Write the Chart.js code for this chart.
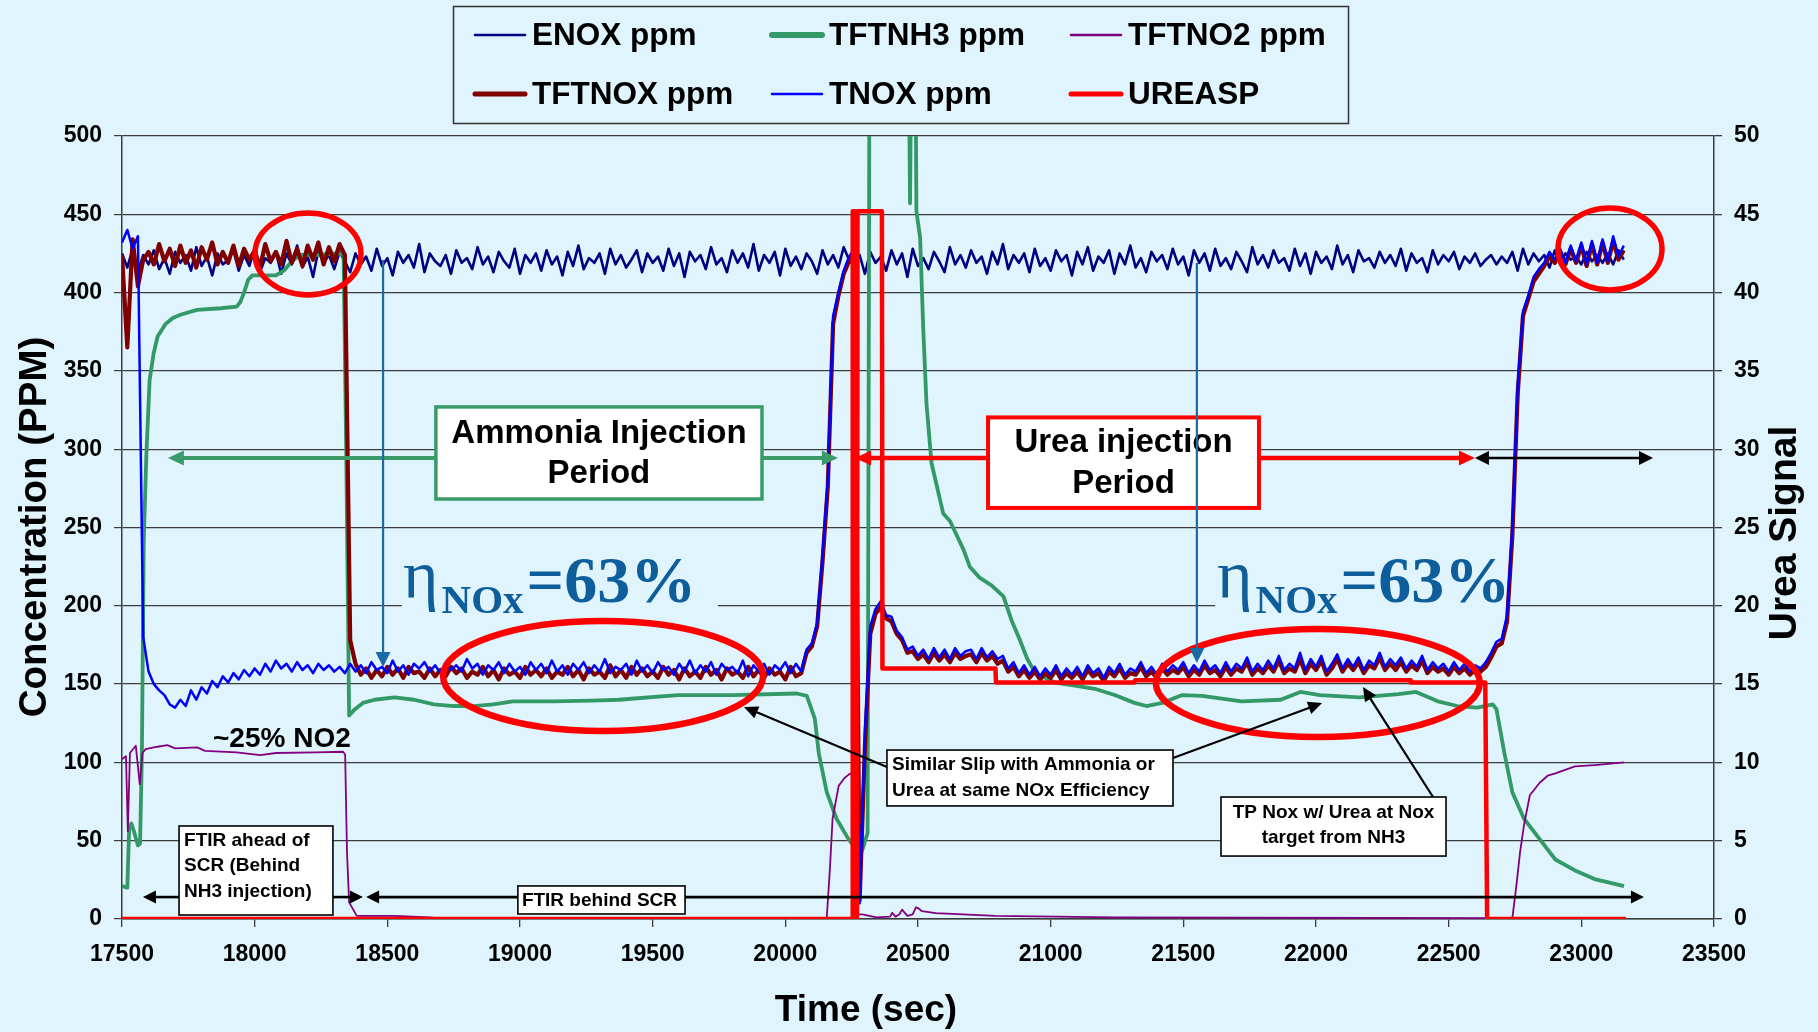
<!DOCTYPE html>
<html lang="en">
<head>
<meta charset="utf-8">
<title>SCR - Ammonia vs Urea injection</title>
<script src="https://cdn.jsdelivr.net/npm/chart.js@4.4.1/dist/chart.umd.min.js"></script>
<style>
  html, body { margin: 0; padding: 0; background: #E0F4FD; }
  #wrap { width: 1818px; height: 1032px; }
</style>
</head>
<body>
<div id="wrap"><canvas id="chart" width="1818" height="1032"></canvas></div>
<script>
// noisy NOx traces, every 20 s starting at 17500 s
const timeStart = 17500, timeStep = 20;

const enox = [
  425,416,428,413,424,418,427,415,422,412,426,419,424,414,429,417,423,411,425,418,
  421,427,414,424,417,428,413,422,419,426,412,425,418,430,416,423,410,427,419,424,
  415,426,420,413,425,418,423,414,428,417,422,411,426,419,424,416,431,413,425,420,
  417,424,412,427,419,422,415,429,418,423,413,426,420,416,428,412,424,419,425,414,
  427,418,423,411,426,417,430,415,422,419,425,412,428,418,424,416,421,427,413,425,
  419,423,414,428,417,425,410,426,420,424,415,429,418,422,413,427,419,425,416,431,
  414,424,419,426,411,428,417,423,415,425,420,412,427,418,424,416,429,421,417,424,
  412,426,419,423,414,427,418,425,410,428,417,422,415,426,420,413,429,418,424,416,
  427,419,423,412,426,418,431,415,424,419,425,413,428,417,422,414,427,420,424,411,
  426,418,429,414,423,419,427,412,425,418,430,416,422,413,426,420,424,415,428,418,
  423,411,427,419,425,414,428,417,422,415,426,420,413,429,418,424,416,427,419,422,
  414,428,417,425,412,426,419,423,415,430,418,424,413,427,420,422,416,426,419,424,
  417,428,414,425,419,422,413,427,418,424,420,426,415,423,419,425,417,421,424,418,
  423,419,426,414,428,418,425,420,424,416,427,419,425,421,423,418,426,420,424,419,
  425,418,427,421
];

const tnox = [
  432,440,428,436,180,158,150,146,143,137,135,140,136,146,140,148,144,152,148,155,
  151,157,153,159,155,160,156,163,158,165,160,163,158,164,159,162,157,163,159,162,
  158,161,157,163,158,162,157,164,159,161,157,165,158,162,156,163,160,164,158,162,
  157,164,159,162,158,166,160,163,156,162,159,164,157,163,158,161,156,164,159,163,
  157,165,158,162,156,163,159,164,157,162,158,166,157,161,159,163,156,165,158,162,
  157,164,159,161,156,163,158,165,157,162,158,164,156,163,159,161,157,165,155,162,
  158,163,156,162,159,164,157,163,158,172,176,189,232,280,385,400,414,423,428,10,
  120,187,198,203,194,193,184,180,172,174,168,172,166,173,167,172,166,173,168,171,
  172,166,173,167,171,166,168,160,164,157,162,156,161,155,160,156,162,155,160,156,
  161,155,162,157,160,154,161,157,163,156,160,158,164,157,161,156,163,158,162,159,
  164,157,162,158,165,159,162,157,164,158,163,160,167,158,163,159,165,160,168,159,
  163,160,170,159,166,161,168,158,163,169,160,166,161,167,159,165,162,170,161,166,
  162,167,160,165,161,168,159,164,160,163,158,164,159,163,158,162,160,164,170,177,
  179,194,250,340,388,398,410,415,419,426,421,428,419,430,420,432,418,433,419,434,
  420,436,423,430
];

const tftnox = [
  424,365,434,404,421,426,418,431,420,428,417,430,419,427,416,429,421,432,418,426,
  419,430,417,428,421,427,416,431,420,426,418,433,419,428,417,430,421,432,418,429,
  420,431,424,178,163,156,160,154,159,155,161,156,160,154,161,157,158,154,160,155,
  159,155,161,157,160,154,158,156,161,155,159,153,160,156,158,154,161,156,159,155,
  160,154,158,156,161,155,159,153,160,156,158,154,162,155,159,154,161,156,160,155,
  158,154,161,156,159,153,160,155,158,154,161,156,159,153,160,156,158,154,161,155,
  159,154,160,156,158,153,161,155,157,170,174,187,228,276,380,398,412,420,425,12,
  110,182,195,199,192,190,182,178,170,171,166,169,164,170,165,169,164,170,166,168,
  169,164,170,165,168,163,165,158,161,155,159,154,158,153,157,154,159,153,157,154,
  158,153,159,155,157,152,158,155,160,154,157,156,161,155,158,154,160,156,159,157,
  161,155,159,156,162,157,159,155,161,156,160,158,164,156,160,157,162,158,165,157,
  160,158,166,157,163,159,165,156,160,166,158,163,159,164,157,162,160,167,159,163,
  159,164,158,162,159,165,157,161,158,160,156,161,157,160,156,159,158,161,167,174,
  176,190,245,335,385,396,407,412,417,423,419,426,418,428,419,430,417,431,418,432,
  419,433,421,427
];

// smoother traces, read as (time, value) pairs
const nh3Time = [17500,17520,17527,17535,17545,17560,17568,17575,17582,17592,17604,17619,17634,17664,17693,17723,17783,17872,17932,17946,17960,17975,17991,18080,18110,18140,18170,18229,18318,18335,18345,18356,18378,18408,18452,18527,18601,18676,18750,18824,18899,18973,19122,19271,19372,19594,19800,20043,20081,20111,20126,20156,20193,20238,20260,20290,20310,20318,20462,20470,20478,20488,20494,20508,20520,20532,20551,20595,20621,20671,20695,20732,20777,20822,20852,20882,20912,20942,21016,21091,21166,21241,21316,21361,21421,21496,21571,21719,21867,21941,22015,22163,22311,22377,22459,22533,22607,22666,22680,22710,22740,22784,22843,22902,22976,23050,23161];
const nh3 = [21,20,58,61,56,47,48,106,242,297,344,361,372,380,384,386,389,390,391,394,400,408,411,411,414,420,424,424,425,424,300,130,134,138,140,141.5,140,137,136,136,137,139,139,139.5,140,143,143,144,142.5,128,106,81,64,51,46,44,55,620,620,457,620,620,452,435,376,329,291,259,254,236,225,218,213,206,191,179,166,157,151,149,147,143,138,136,138,143,142.5,139,140,145,143,141.5,143.6,145,139,136,135,137,134,106,81,64,51,38,31,25.5,21];

const no2Time = [17500,17515,17522,17530,17552,17567,17577,17589,17634,17671,17700,17783,17813,17932,18021,18080,18229,18333,18341,18348,18356,18385,18527,18661,18700,20156,20168,20178,20201,20223,20241,20250,20262,20270,20290,20343,20395,20403,20415,20430,20440,20460,20480,20492,20500,20515,20567,20792,21241,22740,22755,22769,22784,22806,22843,22873,22902,22976,23050,23161];
const no2 = [102,104,56,106,110.6,86,106,108.5,110,111,109,109.6,107.4,106.4,104.7,106,106.4,106.8,105,42.5,10.6,2,2,1,0.3,0.5,32,64,85,90,92.5,93,40,3,3,1,1.5,4,1.5,3,6,2,3,7.4,7,5,3.8,2,1,0.5,21,42.5,60,79,87,91.5,93,97.4,98.3,100];

const ureaTime = [17500,20252,20254,20262,20264,20270,20272,20364,20366,20792,20794,21316,21318,22355,22357,22638,22645,23168];
const urea = [0,0,45.2,45.2,0,0,45.2,45.2,16,16,15.1,15.1,15.25,15.25,15.1,15.1,0,0];

const xTicks = { min: 17500, max: 23500, step: 500 };
const yTicks = { min: 0, max: 500, step: 50 };
const y2Ticks = { min: 0, max: 50, step: 5 };

const BG = '#E0F4FD';
const FONT = "'Liberation Sans', Arial, sans-serif";
const SERIF = "'Liberation Serif', 'Times New Roman', serif";

function sampled(arr) { return arr.map((v, i) => ({ x: timeStart + i * timeStep, y: v })); }
function paired(ts, vs) { return ts.map((t, i) => ({ x: t, y: vs[i] })); }

const datasets = [
  { label: 'ENOX ppm',   data: sampled(enox),     borderColor: '#000080', borderWidth: 2.6, order: 5, legendW: 2.5 },
  { label: 'TFTNH3 ppm', data: paired(nh3Time, nh3), borderColor: '#339966', borderWidth: 3.8, order: 4, legendW: 6 },
  { label: 'TFTNO2 ppm', data: paired(no2Time, no2), borderColor: '#800080', borderWidth: 1.8, order: 3, legendW: 2.5 },
  { label: 'TFTNOX ppm', data: sampled(tftnox),   borderColor: '#800000', borderWidth: 4.2, order: 2, legendW: 5 },
  { label: 'TNOX ppm',   data: sampled(tnox),     borderColor: '#0000FF', borderWidth: 2.5, order: 1, legendW: 2.5 },
  { label: 'UREASP',     data: paired(ureaTime, urea), borderColor: '#FF0000', borderWidth: 4.5, order: 0, legendW: 5, yAxisID: 'y2' }
];
datasets.forEach(d => {
  d.pointRadius = 0; d.fill = false; d.tension = 0; d.borderJoinStyle = 'round';
  if (!d.yAxisID) d.yAxisID = 'y';
});

// annotations, anchored in data units (s, ppm)
const ellipses = [
  { t: 18201, v: 424.7, rx: 53, ry: 41, lw: 5.5 },
  { t: 23108, v: 427.9, rx: 52, ry: 41, lw: 5.5 },
  { t: 19313, v: 155.2, rx: 160, ry: 55, lw: 6.5 },
  { t: 22007, v: 150.7, rx: 162, ry: 54, lw: 6.5 }
];

function arrowHead(ctx, x1, y1, x2, y2, len, half, color) {
  const a = Math.atan2(y2 - y1, x2 - x1);
  const c = Math.cos(a), s = Math.sin(a);
  ctx.beginPath();
  ctx.moveTo(x2, y2);
  ctx.lineTo(x2 - len * c + half * s, y2 - len * s - half * c);
  ctx.lineTo(x2 - len * c - half * s, y2 - len * s + half * c);
  ctx.closePath();
  ctx.fillStyle = color;
  ctx.fill();
}
function arrow(ctx, x1, y1, x2, y2, o) {
  const a = Math.atan2(y2 - y1, x2 - x1);
  const c = Math.cos(a), s = Math.sin(a);
  let sx = x1, sy = y1, ex = x2, ey = y2;
  if (o.end) { ex -= (o.len - 2) * c; ey -= (o.len - 2) * s; }
  if (o.start) { sx += (o.len - 2) * c; sy += (o.len - 2) * s; }
  ctx.beginPath();
  ctx.moveTo(sx, sy); ctx.lineTo(ex, ey);
  ctx.strokeStyle = o.color; ctx.lineWidth = o.lw; ctx.lineCap = 'butt';
  ctx.stroke();
  if (o.end) arrowHead(ctx, x1, y1, x2, y2, o.len, o.half, o.color);
  if (o.start) arrowHead(ctx, x2, y2, x1, y1, o.len, o.half, o.color);
}
function box(ctx, x0, y0, x1, y1, stroke, lw) {
  ctx.fillStyle = '#FFFFFF';
  ctx.fillRect(x0, y0, x1 - x0, y1 - y0);
  ctx.strokeStyle = stroke; ctx.lineWidth = lw;
  ctx.strokeRect(x0, y0, x1 - x0, y1 - y0);
}
function etaText(ctx, x, y) {
  ctx.fillStyle = '#0F5E9C';
  ctx.textAlign = 'left'; ctx.textBaseline = 'alphabetic';
  ctx.font = '68px ' + SERIF;
  ctx.fillText('\u03B7', x, y - 2);
  let cx = x + ctx.measureText('\u03B7').width + 3;
  ctx.font = 'bold 41px ' + SERIF;
  ctx.fillText('NOx', cx, y + 13);
  cx += ctx.measureText('NOx').width + 3;
  ctx.font = 'bold 66px ' + SERIF;
  ctx.fillText('=63%', cx, y + 2);
}

const decor = {
  id: 'decor',
  beforeDraw(chart) {
    const ctx = chart.ctx;
    ctx.save();
    ctx.fillStyle = BG;
    ctx.fillRect(0, 0, chart.width, chart.height);
    ctx.restore();
  },
  beforeDatasetsDraw(chart) {
    const ctx = chart.ctx, X = v => chart.scales.x.getPixelForValue(v), Y = v => chart.scales.y.getPixelForValue(v);
    ctx.save();
    // the efficiency labels sit on a patch of background over the 200 gridline
    ctx.fillStyle = BG;
    ctx.fillRect(X(18555), Y(219.7), X(19746) - X(18555), Y(194.1) - Y(219.7));
    ctx.fillRect(X(21620), Y(219.7), X(22731) - X(21620), Y(194.1) - Y(219.7));
    etaText(ctx, X(18559), Y(203.7));
    etaText(ctx, X(21627), Y(203.7));
    ctx.restore();
  },
  afterDatasetsDraw(chart) {
    const ctx = chart.ctx, X = v => chart.scales.x.getPixelForValue(v), Y = v => chart.scales.y.getPixelForValue(v);
    ctx.save();

    // red ellipses
    ellipses.forEach(e => {
      ctx.beginPath();
      ctx.ellipse(X(e.t), Y(e.v), e.rx, e.ry, 0, 0, Math.PI * 2);
      ctx.strokeStyle = '#FF0000'; ctx.lineWidth = e.lw;
      ctx.stroke();
    });

    // injection period arrows
    const ya = Y(294.4);
    arrow(ctx, X(18683), ya, X(17673), ya, { color: '#3A9A68', lw: 4, len: 16, half: 7.5, end: true });
    arrow(ctx, X(19912), ya, X(20198), ya, { color: '#3A9A68', lw: 4, len: 16, half: 7.5, end: true });
    arrow(ctx, X(20764), ya, X(20263), ya, { color: '#FF0000', lw: 4.5, len: 16, half: 7.5, end: true });
    arrow(ctx, X(21785), ya, X(22599), ya, { color: '#FF0000', lw: 4.5, len: 16, half: 7.5, end: true });
    arrow(ctx, X(22599), ya, X(23270), ya, { color: '#000000', lw: 2.5, len: 14, half: 7, start: true, end: true });

    // FTIR position arrows
    const yf = Y(14.0);
    const fo = { color: '#000000', lw: 2.6, len: 13, half: 6.5, end: true };
    arrow(ctx, X(17715), yf, X(17579), yf, fo);
    arrow(ctx, X(18295), yf, X(18408), yf, fo);
    arrow(ctx, X(18992), yf, X(18420), yf, fo);
    arrow(ctx, X(19622), yf, X(23236), yf, fo);

    // call-out arrows
    const co = { color: '#000000', lw: 2.2, len: 14, half: 6.5, end: true };
    arrow(ctx, X(20383), Y(97.1), X(19844), Y(135.4), co);
    arrow(ctx, X(21461), Y(102.8), X(22023), Y(137.9), co);
    arrow(ctx, X(22441), Y(77.9), X(22177), Y(148.2), co);

    // boxes
    ctx.textBaseline = 'alphabetic';
    let x0 = X(18683), x1 = X(19912), y0 = Y(327), y1 = Y(268.2);
    box(ctx, x0, y0, x1, y1, '#3A9A68', 3.5);
    ctx.fillStyle = '#000'; ctx.font = 'bold 33px ' + FONT; ctx.textAlign = 'center';
    ctx.fillText('Ammonia Injection', (x0 + x1) / 2, y0 + 36);
    ctx.fillText('Period', (x0 + x1) / 2, y0 + 76);

    x0 = X(20764); x1 = X(21785); y0 = Y(320.3); y1 = Y(262.5);
    box(ctx, x0, y0, x1, y1, '#FF0000', 4);
    ctx.fillStyle = '#000';
    ctx.fillText('Urea injection', (x0 + x1) / 2, y0 + 35);
    ctx.fillText('Period', (x0 + x1) / 2, y0 + 76);

    ctx.font = 'bold 19px ' + FONT;
    x0 = X(17715); x1 = X(18295); y0 = Y(59.4); y1 = Y(2.55);
    box(ctx, x0, y0, x1, y1, '#000', 1.6);
    ctx.fillStyle = '#000'; ctx.textAlign = 'left';
    ctx.fillText('FTIR ahead of', x0 + 5, y0 + 20);
    ctx.fillText('SCR (Behind', x0 + 5, y0 + 45);
    ctx.fillText('NH3 injection)', x0 + 5, y0 + 71);

    x0 = X(18992); x1 = X(19622); y0 = Y(21.1); y1 = Y(3.2);
    box(ctx, x0, y0, x1, y1, '#000', 1.6);
    ctx.fillStyle = '#000';
    ctx.fillText('FTIR behind SCR', x0 + 4, y0 + 20);

    x0 = X(20383); x1 = X(21461); y0 = Y(107.9); y1 = Y(72.2);
    box(ctx, x0, y0, x1, y1, '#000', 1.6);
    ctx.fillStyle = '#000';
    ctx.fillText('Similar Slip with Ammonia or', x0 + 5, y0 + 20);
    ctx.fillText('Urea at same NOx Efficiency', x0 + 5, y0 + 46);

    x0 = X(21642); x1 = X(22490); y0 = Y(77.9); y1 = Y(40.2);
    box(ctx, x0, y0, x1, y1, '#000', 1.6);
    ctx.fillStyle = '#000'; ctx.textAlign = 'center';
    ctx.fillText('TP Nox w/ Urea at Nox', (x0 + x1) / 2, y0 + 21);
    ctx.fillText('target from NH3', (x0 + x1) / 2, y0 + 46);

    // ENOX -> TNOX drop markers
    const bo = { color: '#1C6AA3', lw: 2.2, len: 15, half: 7.5, end: true };
    arrow(ctx, X(18484), Y(420.8), X(18484), Y(160.9), bo);
    arrow(ctx, X(21551), Y(418.9), X(21551), Y(163.5), bo);

    ctx.fillStyle = '#000'; ctx.textAlign = 'left';
    ctx.font = 'bold 28px ' + FONT;
    ctx.fillText('~25% NO2', X(17843), Y(109.8));
    ctx.restore();
  },
  afterDraw(chart) {
    const ctx = chart.ctx, a = chart.chartArea;
    ctx.save();
    ctx.fillStyle = '#000';
    ctx.font = 'bold 37px ' + FONT;
    ctx.textAlign = 'center'; ctx.textBaseline = 'middle';
    ctx.fillText('Time (sec)', 866, 1011);
    ctx.font = 'bold 38.5px ' + FONT;
    ctx.save();
    ctx.translate(35, 527); ctx.rotate(-Math.PI / 2);
    ctx.fillText('Concentration (PPM)', 0, 0);
    ctx.restore();
    ctx.font = 'bold 39px ' + FONT;
    ctx.save();
    ctx.translate(a.right + 71, 533); ctx.rotate(-Math.PI / 2);
    ctx.fillText('Urea Signal', 0, 0);
    ctx.restore();

    // legend box, 3 columns x 2 rows
    ctx.strokeStyle = '#333'; ctx.lineWidth = 1.5;
    ctx.strokeRect(453.5, 6.5, 895, 117);
    const cols = [475, 772, 1071], rows = [35, 94];
    ctx.font = 'bold 31.5px ' + FONT; ctx.textAlign = 'left'; ctx.textBaseline = 'middle';
    chart.data.datasets.forEach((d, i) => {
      const x = cols[i % 3], y = rows[Math.floor(i / 3)];
      ctx.beginPath(); ctx.moveTo(x, y); ctx.lineTo(x + 50, y);
      ctx.strokeStyle = d.borderColor; ctx.lineWidth = d.legendW; ctx.lineCap = 'round';
      ctx.stroke();
      ctx.fillStyle = '#000';
      ctx.fillText(d.label, x + 57, y + 1);
    });
    ctx.restore();
  }
};

const tickFont = { family: FONT, size: 23, weight: 'bold' };
const gridCol = '#3C3C3C';

const chart = new Chart(document.getElementById('chart'), {
  type: 'line',
  data: { datasets },
  options: {
    responsive: false,
    animation: false,
    layout: { padding: { top: 136, left: 0, right: 0, bottom: 0 } },
    plugins: { legend: { display: false }, tooltip: { enabled: false } },
    scales: {
      x: {
        type: 'linear', min: xTicks.min, max: xTicks.max,
        ticks: { stepSize: xTicks.step, font: tickFont, color: '#000', padding: 14, maxRotation: 0, callback: v => String(v) },
        grid: { drawOnChartArea: false, tickLength: 8, tickColor: gridCol, lineWidth: 1.3 },
        border: { color: gridCol, width: 1.5 },
        afterFit: s => { s.height = 113; }
      },
      y: {
        position: 'left', min: yTicks.min, max: yTicks.max,
        ticks: { stepSize: yTicks.step, font: tickFont, color: '#000', padding: 12 },
        grid: { color: gridCol, lineWidth: 1.2, tickLength: 8, tickColor: gridCol },
        border: { color: gridCol, width: 1.5 },
        afterFit: s => { s.width = 122; }
      },
      y2: {
        position: 'right', min: y2Ticks.min, max: y2Ticks.max,
        ticks: { stepSize: y2Ticks.step, font: tickFont, color: '#000', padding: 12 },
        grid: { drawOnChartArea: false, tickLength: 8, tickColor: gridCol, lineWidth: 1.3 },
        border: { color: gridCol, width: 1.5 },
        afterFit: s => { s.width = 104; }
      }
    }
  },
  plugins: [decor]
});
</script>
</body>
</html>
